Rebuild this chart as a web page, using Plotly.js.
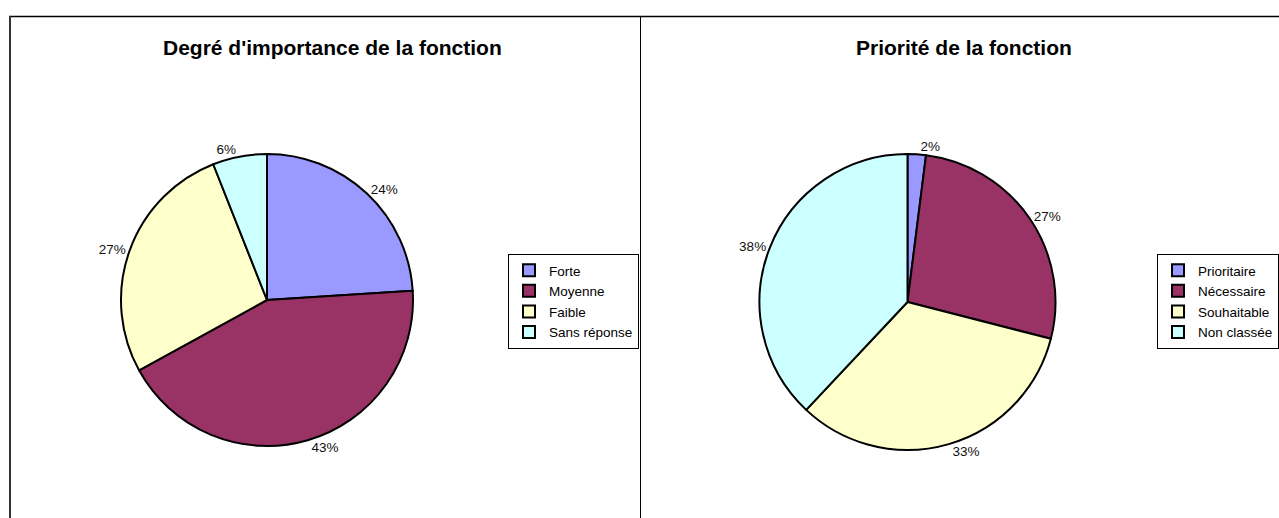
<!DOCTYPE html>
<html>
<head>
<meta charset="utf-8">
<script src="https://cdn.plot.ly/plotly-3.0.1.min.js"></script>
<style>html,body{margin:0;padding:0;background:#fff;overflow:hidden;width:1279px;height:518px;}#chart{width:1279px;height:518px;display:block;}</style>
</head>
<body>
<div id="chart"></div>
<script>
const title1 = "Degré d'importance de la fonction";
const labels1 = ["Forte", "Moyenne", "Faible", "Sans réponse"];
const values1 = [24, 43, 27, 6];

const title2 = "Priorité de la fonction";
const labels2 = ["Prioritaire", "Nécessaire", "Souhaitable", "Non classée"];
const values2 = [2, 27, 33, 38];

const colors = ["#9999FF", "#993366", "#FFFFCC", "#CCFFFF"];

const W = 1279, H = 518;
const font = "Arial, 'Liberation Sans', sans-serif";

function px(x){ return x / W; }
function py(y){ return 1 - y / H; }

function pieTrace(labels, values, cx, cy, r, legendId){
  return {
    type: "pie",
    labels: labels,
    values: values,
    sort: false,
    direction: "clockwise",
    rotation: 0,
    textinfo: "percent",
    texttemplate: "%{percent:.0%}",
    textposition: "outside",
    outsidetextfont: {family: font, size: 13.5, color: "#111"},
    marker: {colors: colors, line: {color: "#000", width: 2}},
    domain: {x: [px(cx - r), px(cx + r)], y: [py(cy + r), py(cy - r)]},
    legend: legendId,
    hoverinfo: "label+percent"
  };
}

const data = [
  pieTrace(labels1, values1, 267, 300, 146, "legend"),
  pieTrace(labels2, values2, 907.5, 302, 148, "legend2")
];

const legendStyle = {
  font: {family: font, size: 13.5, color: "#000"},
  bgcolor: "#fff",
  bordercolor: "#000",
  borderwidth: 1,
  xanchor: "left",
  yanchor: "top",
  itemclick: false,
  itemdoubleclick: false
};

const layout = {
  width: W,
  height: H,
  margin: {l: 0, r: 0, t: 0, b: 0},
  paper_bgcolor: "#fff",
  showlegend: true,
  font: {family: font, size: 12, color: "#000"},
  legend: Object.assign({}, legendStyle, {x: px(508), y: py(254)}),
  legend2: Object.assign({}, legendStyle, {x: px(1157), y: py(254)}),
  annotations: [
    {text: "<b>" + title1 + "</b>", x: px(332), y: py(47), xref: "paper", yref: "paper",
     showarrow: false, xanchor: "center", yanchor: "middle", font: {family: font, size: 21, color: "#000"}},
    {text: "<b>" + title2 + "</b>", x: px(964), y: py(47), xref: "paper", yref: "paper",
     showarrow: false, xanchor: "center", yanchor: "middle", font: {family: font, size: 21, color: "#000"}}
  ],
  shapes: [
    {type: "line", xref: "paper", yref: "paper", x0: px(9), x1: 1, y0: py(16.5), y1: py(16.5), line: {color: "#000", width: 1.5}},
    {type: "line", xref: "paper", yref: "paper", x0: px(10), x1: px(10), y0: py(16), y1: 0, line: {color: "#333", width: 2}},
    {type: "line", xref: "paper", yref: "paper", x0: px(640.5), x1: px(640.5), y0: py(16), y1: 0, line: {color: "#000", width: 1}}
  ]
};

Plotly.newPlot("chart", data, layout, {displayModeBar: false, staticPlot: true});
</script>
</body>
</html>
